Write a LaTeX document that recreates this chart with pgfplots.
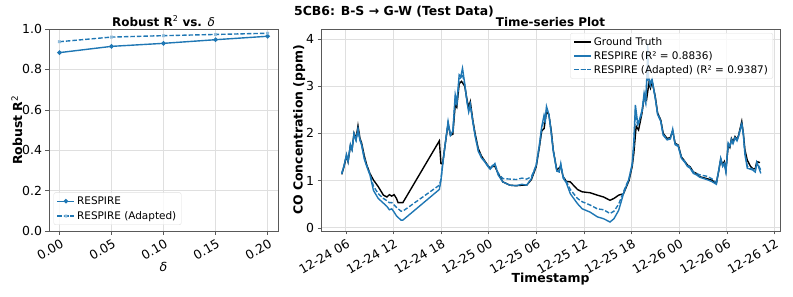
\documentclass[border=0pt]{standalone}
\usepackage{pgfplots}
\pgfplotsset{compat=1.18}
\usepackage{fontspec}
\setmainfont{DejaVu Sans}
\definecolor{tabblue}{HTML}{1F77B4}
\pgfplotsset{
  myax/.style={
    scale only axis,
    axis line style={black!65},
    tick align=outside,
    tick pos=left,
    major tick length=3.5bp,
    tick style={black!65},
    grid=major,
    grid style={gray!25, line width=0.5pt},
    ticklabel style={font=\fontsize{12.5}{14}\selectfont},
    label style={font=\bfseries\fontsize{12.5}{14}\selectfont},
    title style={font=\bfseries\fontsize{12}{14}\selectfont, yshift=-7bp},
    /pgf/number format/assume math mode=true,
  }
}
\begin{document}
\begin{tikzpicture}
\path[use as bounding box] (0,0) rectangle (793bp,297bp);
\node[font=\bfseries\fontsize{12.5}{14}\selectfont] at (394bp,285bp) {5CB6: B-S → G-W (Test Data)};
% left axis
\begin{axis}[myax,
  at={(49bp,66bp)}, anchor=south west,
  width=229bp, height=202bp,
  xmin=-0.01, xmax=0.21, ymin=0, ymax=1.0,
  xtick={0,0.05,0.1,0.15,0.2},
  ytick={0,0.2,0.4,0.6,0.8,1.0},
  xticklabel style={rotate=30, anchor=north east, xshift=2bp, /pgf/number format/.cd, fixed, fixed zerofill, precision=2},
  yticklabel style={/pgf/number format/.cd, fixed, fixed zerofill, precision=1},
  title={Robust R\textsuperscript{\mdseries 2} vs. \mdseries\textit{δ}},
  xlabel={\mdseries\textit{δ}},
  ylabel={Robust R\textsuperscript{\mdseries 2}},
  xlabel style={yshift=6bp},
  ylabel style={yshift=-7bp},
  legend style={at={(0.02,0.03)}, anchor=south west, font=\fontsize{10.5}{12}\selectfont,
    draw=gray!25, rounded corners=2pt, fill=white, fill opacity=0.8, text opacity=1,
    row sep=1.5pt},
  legend cell align=left,
]
\addplot[tabblue, line width=1.4pt, mark=*, mark size=1.5pt] coordinates {
(0.00,0.883) (0.05,0.914) (0.10,0.929) (0.15,0.947) (0.20,0.964)};
\addlegendentry{RESPIRE}
\addplot[tabblue, line width=1.4pt, dash pattern=on 4.5pt off 2pt, mark=x, mark size=1.7pt, mark options={solid, tabblue!50}] coordinates {
(0.00,0.937) (0.05,0.960) (0.10,0.967) (0.15,0.973) (0.20,0.979)};
\addlegendentry{RESPIRE (Adapted)}
\end{axis}
% right axis
\begin{axis}[myax,
  at={(321bp,66bp)}, anchor=south west,
  width=459bp, height=202bp,
  xmin=2.89, xmax=60.72, ymin=-0.07, ymax=4.21,
  xtick={6,12,18,24,30,36,42,48,54,60},
  xticklabels={12-24 06,12-24 12,12-24 18,12-25 00,12-25 06,12-25 12,12-25 18,12-26 00,12-26 06,12-26 12},
  ytick={0,1,2,3,4},
  xticklabel style={rotate=30, anchor=north east, xshift=2bp},
  title={Time-series Plot},
  xlabel={Timestamp},
  ylabel={CO Concentration (ppm)},
  xlabel style={yshift=9bp},
  ylabel style={yshift=-6bp},
  legend style={at={(0.985,0.98)}, anchor=north east, font=\fontsize{10.5}{12}\selectfont,
    draw=gray!25, rounded corners=2pt, fill=white, fill opacity=0.8, text opacity=1,
    row sep=0.5pt},
  legend cell align=left,
]
\addplot[black, line width=1.4pt] coordinates {
(5.5,1.13) (5.8,1.30) (6.1,1.52) (6.3,1.40) (6.6,1.74) (6.8,1.66) (7.05,2.00) (7.3,1.88) (7.55,2.16) (7.8,1.89)
(8.0,1.80) (8.35,1.52) (8.65,1.33) (9.05,1.15) (9.5,1.01) (10.1,0.87) (10.75,0.69) (11.2,0.65) (11.5,0.70) (11.8,0.67)
(12.1,0.70) (12.4,0.62) (12.6,0.53) (13.2,0.53) (17.8,1.84) (18.0,1.36) (18.2,1.35) (18.5,1.72) (18.9,2.20) (19.2,1.96)
(19.5,1.98) (19.8,2.60) (20.0,2.55) (20.3,3.05) (20.6,3.10) (21.0,3.00) (21.3,2.70) (21.5,2.55) (21.7,2.67) (22.0,2.30)
(22.3,2.00) (22.7,1.68) (23.1,1.52) (23.5,1.42) (23.9,1.32) (24.2,1.26) (24.5,1.30) (24.8,1.30) (25.2,1.15) (25.8,0.97)
(26.7,0.90) (27.5,0.89) (28.2,0.90) (28.8,0.90) (29.4,1.02) (30.0,1.29) (30.4,1.70) (30.7,2.05) (31.0,2.10) (31.3,2.45)
(31.6,2.40) (31.9,2.05) (32.15,1.65) (32.6,1.22) (33.1,1.30) (33.4,1.08) (33.8,0.98) (34.3,0.97) (35.2,0.81) (35.8,0.76)
(36.8,0.74) (37.7,0.69) (38.5,0.65) (39.3,0.58) (39.8,0.62) (40.4,0.69) (41.0,0.72) (41.7,1.00) (42.1,1.30) (42.3,1.57)
(42.6,2.15) (42.9,2.07) (43.3,2.40) (43.6,2.75) (43.9,2.70) (44.2,3.06) (44.4,2.96) (44.6,3.10) (45.0,2.78) (45.3,2.43)
(45.7,2.28) (46.0,2.00) (46.5,1.89) (46.9,1.91) (47.2,2.05) (47.5,1.79) (47.9,1.75) (48.3,1.50) (48.75,1.40) (49.05,1.33)
(49.4,1.29) (49.8,1.18) (50.2,1.15) (50.6,1.08) (51.5,1.04) (52.1,1.01) (52.7,0.94) (53.0,1.20) (53.25,1.45) (53.5,1.33)
(53.7,1.40) (53.9,1.22) (54.2,1.75) (54.4,1.70) (54.6,1.89) (54.8,1.82) (55.05,1.93) (55.3,1.87) (55.5,1.96) (55.9,2.25)
(56.1,2.00) (56.3,1.65) (56.6,1.43) (57.0,1.30) (57.3,1.25) (57.6,1.25) (57.8,1.40) (58.2,1.38)};
\addlegendentry{Ground Truth}
\addplot[tabblue, line width=1.4pt] coordinates {
(5.5,1.15) (5.8,1.32) (6.1,1.55) (6.3,1.40) (6.6,1.76) (6.8,1.65) (7.05,1.98) (7.3,1.85) (7.55,2.07) (7.8,1.85)
(8.0,1.75) (8.35,1.45) (8.65,1.30) (9.05,1.12) (9.5,0.79) (10.1,0.62) (10.75,0.52) (11.2,0.45) (11.5,0.38) (11.8,0.40)
(12.1,0.33) (12.4,0.25) (12.97,0.16) (13.2,0.16) (17.8,0.81) (18.0,1.00) (18.2,1.30) (18.5,1.72) (18.9,2.25) (19.2,1.96)
(19.5,2.05) (19.8,2.82) (20.0,2.64) (20.3,3.24) (20.5,3.20) (20.72,3.38) (21.0,3.05) (21.3,2.65) (21.5,2.45) (21.7,2.60)
(22.0,2.25) (22.3,1.95) (22.7,1.62) (23.1,1.48) (23.5,1.40) (23.9,1.30) (24.2,1.24) (24.5,1.30) (24.8,1.36) (25.2,1.12)
(25.8,0.97) (26.7,0.90) (27.5,0.89) (28.2,0.92) (28.8,0.90) (29.4,1.04) (30.0,1.32) (30.4,1.75) (30.7,2.14) (31.0,2.39)
(31.15,2.30) (31.3,2.57) (31.6,2.40) (31.9,2.00) (32.15,1.62) (32.6,1.20) (32.9,1.18) (33.1,1.36) (33.4,1.05) (33.8,0.95)
(34.3,0.72) (35.2,0.51) (35.8,0.40) (36.8,0.33) (37.7,0.23) (38.5,0.19) (39.3,0.12) (39.8,0.19) (40.4,0.37) (41.0,0.72)
(41.7,1.04) (42.1,1.36) (42.3,1.82) (42.5,2.60) (42.8,2.20) (43.0,2.28) (43.35,2.50) (43.6,2.85) (43.8,2.67) (44.0,3.42)
(44.05,3.90) (44.15,3.20) (44.4,3.05) (44.6,3.15) (45.0,2.75) (45.3,2.40) (45.7,2.25) (46.0,1.96) (46.5,1.86) (46.9,1.88)
(47.2,2.09) (47.5,1.76) (47.9,1.72) (48.3,1.47) (48.75,1.38) (49.05,1.30) (49.4,1.26) (49.8,1.15) (50.2,1.12) (50.6,1.07)
(51.5,1.02) (52.1,0.98) (52.7,0.92) (53.0,1.22) (53.25,1.47) (53.5,1.30) (53.7,1.36) (53.9,1.18) (54.2,1.79) (54.4,1.72)
(54.6,1.86) (54.8,1.78) (55.05,1.90) (55.3,1.84) (55.5,1.94) (55.9,2.20) (56.1,1.98) (56.3,1.55) (56.6,1.26) (57.0,1.24)
(57.3,1.22) (57.6,1.18) (57.8,1.38) (58.0,1.30) (58.3,1.15)};
\addlegendentry{RESPIRE (R² = 0.8836)}
\addplot[tabblue, line width=1.4pt, dash pattern=on 4.5pt off 2pt] coordinates {
(5.5,1.14) (5.8,1.31) (6.1,1.54) (6.3,1.41) (6.6,1.75) (6.8,1.66) (7.05,1.99) (7.3,1.86) (7.55,2.10) (7.8,1.87)
(8.0,1.77) (8.35,1.48) (8.65,1.32) (9.05,1.14) (9.5,0.88) (10.1,0.72) (10.75,0.62) (11.2,0.57) (11.5,0.53) (11.8,0.53)
(12.1,0.48) (12.4,0.43) (12.97,0.35) (13.2,0.35) (17.8,0.90) (18.0,1.02) (18.2,1.32) (18.5,1.72) (18.9,2.22) (19.2,1.96)
(19.5,2.02) (19.8,2.72) (20.0,2.60) (20.3,3.15) (20.5,3.18) (20.72,3.25) (21.0,3.02) (21.3,2.66) (21.5,2.50) (21.7,2.62)
(22.0,2.28) (22.3,1.97) (22.7,1.65) (23.1,1.50) (23.5,1.41) (23.9,1.32) (24.2,1.26) (24.5,1.32) (24.8,1.34) (25.2,1.16)
(25.8,1.04) (26.7,1.03) (27.5,1.02) (28.2,1.05) (28.8,1.03) (29.4,1.08) (30.0,1.32) (30.4,1.73) (30.7,2.10) (31.0,2.30)
(31.15,2.25) (31.3,2.50) (31.6,2.40) (31.9,2.02) (32.15,1.64) (32.6,1.22) (32.9,1.19) (33.1,1.33) (33.4,1.08) (33.8,0.98)
(34.3,0.81) (35.2,0.62) (35.8,0.55) (36.8,0.48) (37.7,0.40) (38.5,0.38) (39.3,0.30) (39.8,0.35) (40.4,0.50) (41.0,0.76)
(41.7,1.04) (42.1,1.34) (42.3,1.72) (42.5,2.45) (42.8,2.15) (43.0,2.25) (43.35,2.45) (43.6,2.80) (43.8,2.65) (44.0,3.30)
(44.05,3.50) (44.15,3.10) (44.4,3.00) (44.6,3.12) (45.0,2.76) (45.3,2.42) (45.7,2.26) (46.0,1.98) (46.5,1.87) (46.9,1.89)
(47.2,2.07) (47.5,1.78) (47.9,1.74) (48.3,1.49) (48.75,1.40) (49.05,1.32) (49.4,1.28) (49.8,1.18) (50.2,1.15) (50.6,1.12)
(51.5,1.09) (52.1,1.04) (52.7,0.96) (53.0,1.21) (53.25,1.46) (53.5,1.31) (53.7,1.38) (53.9,1.20) (54.2,1.77) (54.4,1.71)
(54.6,1.87) (54.8,1.80) (55.05,1.91) (55.3,1.85) (55.5,1.95) (55.9,2.22) (56.1,1.99) (56.3,1.58) (56.6,1.30) (57.0,1.26)
(57.3,1.24) (57.6,1.20) (57.8,1.39) (58.0,1.32) (58.3,1.22)};
\addlegendentry{RESPIRE (Adapted) (R² = 0.9387)}
\end{axis}
\end{tikzpicture}
\end{document}
